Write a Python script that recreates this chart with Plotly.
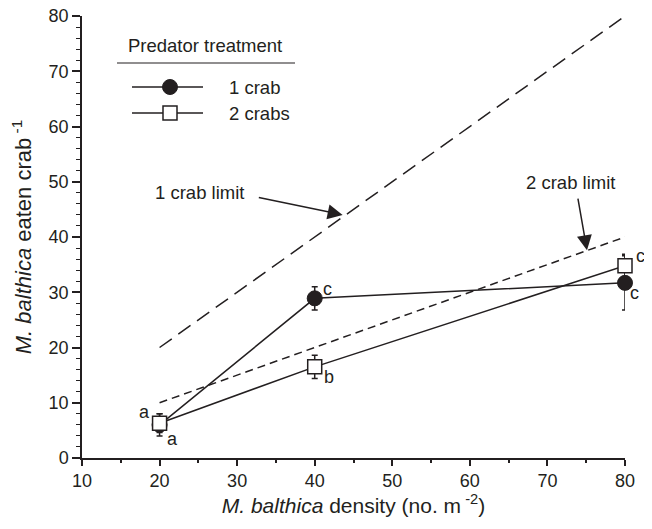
import plotly.graph_objects as go

density = [20, 40, 80]
one_crab = [6.0, 28.9, 31.7]
one_crab_err = [2.0, 2.1, 4.9]
two_crabs = [6.3, 16.5, 34.8]
two_crabs_err = [1.7, 2.1, 2.1]
limit_x = [20, 80]
limit_1 = [20, 80]
limit_2 = [10, 40]
x_ticks = [10, 20, 30, 40, 50, 60, 70, 80]
y_ticks = [0, 10, 20, 30, 40, 50, 60, 70, 80]

INK = "#231f20"
FONT = "Liberation Sans, Arial, sans-serif"

fig = go.Figure()

fig.add_trace(go.Scatter(x=limit_x, y=limit_1, mode="lines",
                         line=dict(color=INK, width=1.5, dash="15px,8px"),
                         showlegend=False, hoverinfo="skip"))
fig.add_trace(go.Scatter(x=limit_x, y=limit_2, mode="lines",
                         line=dict(color=INK, width=1.5, dash="8px,5px"),
                         showlegend=False, hoverinfo="skip"))

fig.add_trace(go.Scatter(x=density, y=one_crab, mode="lines+markers", name="1 crab",
                         line=dict(color=INK, width=1.5),
                         marker=dict(symbol="circle", size=15, color=INK,
                                     line=dict(color=INK, width=1)),
                         error_y=dict(type="data", array=one_crab_err, color=INK,
                                      thickness=1.5, width=3),
                         cliponaxis=False, showlegend=False))
fig.add_trace(go.Scatter(x=density, y=two_crabs, mode="lines+markers", name="2 crabs",
                         line=dict(color=INK, width=1.5),
                         marker=dict(symbol="square", size=14, color="white",
                                     line=dict(color=INK, width=1.5)),
                         error_y=dict(type="data", array=two_crabs_err, color=INK,
                                      thickness=1.5, width=3),
                         cliponaxis=False, showlegend=False))

# plot area in page pixels (page has an 8px body margin)
W, H, L, B = 543.0, 442.0, 82.0, 458.0
def px(x):
    return (x - L) / W
def py(y):
    return (B - y) / H

annotations = []
def txt(x, y, s, size=18, xref="x", yref="y", xanchor="center"):
    annotations.append(dict(x=x, y=y, xref=xref, yref=yref, text=s, showarrow=False,
                            font=dict(family=FONT, size=size, color=INK),
                            xanchor=xanchor, yanchor="middle"))

# significance letters
txt(18.1, 8.3, "a")
txt(21.7, 3.4, "a")
txt(41.6, 30.6, "c")
txt(41.8, 14.7, "b")
txt(px(640), py(256), "c", xref="paper", yref="paper")
txt(px(634), py(293), "c", xref="paper", yref="paper")

# limit labels and arrows
txt(25.2, 48.1, "1 crab limit", size=18.5)
txt(73.0, 49.8, "2 crab limit", size=18.5)
for (tx, ty, hx, hy) in [(32.6, 47.2, 43.6, 44.0), (73.9, 47.2, 75.1, 37.6)]:
    annotations.append(dict(x=hx, y=hy, ax=tx, ay=ty, xref="x", yref="y",
                            axref="x", ayref="y", text="", showarrow=True,
                            arrowhead=2, arrowsize=2, arrowwidth=1.5,
                            arrowcolor=INK))

# legend (drawn manually)
txt(px(205), py(45), "Predator treatment", size=18.5, xref="paper", yref="paper")
txt(px(227), py(87), "1 crab", size=18.5, xref="paper", yref="paper", xanchor="left")
txt(px(227), py(113), "2 crabs", size=18.5, xref="paper", yref="paper", xanchor="left")

shapes = [
    dict(type="line", xref="paper", yref="paper", x0=px(117), x1=px(295),
         y0=py(63), y1=py(63), line=dict(color=INK, width=1.2)),
    dict(type="line", xref="paper", yref="paper", x0=px(132), x1=px(203),
         y0=py(87), y1=py(87), line=dict(color=INK, width=1.5)),
    dict(type="line", xref="paper", yref="paper", x0=px(132), x1=px(203),
         y0=py(113), y1=py(113), line=dict(color=INK, width=1.5)),
    dict(type="circle", xref="paper", yref="paper", xsizemode="pixel", ysizemode="pixel",
         xanchor=px(170), yanchor=py(87), x0=-7.5, x1=7.5, y0=-7.5, y1=7.5,
         fillcolor=INK, line=dict(color=INK, width=1)),
    dict(type="rect", xref="paper", yref="paper", xsizemode="pixel", ysizemode="pixel",
         xanchor=px(170), yanchor=py(113), x0=-7, x1=7, y0=-7, y1=7,
         fillcolor="white", line=dict(color=INK, width=1.5)),
]

fig.update_layout(
    width=644, height=513,
    margin=dict(l=74, r=27, t=8, b=63, autoexpand=False),
    paper_bgcolor="white", plot_bgcolor="white",
    font=dict(family=FONT, size=18, color=INK),
    annotations=annotations, shapes=shapes,
    showlegend=False,
    xaxis=dict(range=[10, 80], tickmode="array", tickvals=x_ticks, automargin=False,
               ticktext=[str(v) for v in x_ticks], ticklabeloverflow="allow",
               showgrid=False, zeroline=False, showline=True, linecolor=INK, linewidth=1.5,
               ticks="outside", ticklen=6, tickwidth=1.5, tickcolor=INK,
               minor=dict(dtick=5, ticks="outside", ticklen=3, tickwidth=1.5, tickcolor=INK,
                          showgrid=False),
               tickfont=dict(size=18, color=INK),
               title=dict(text="<i>M. balthica</i> density (no. m<sup> -2</sup>)",
                          font=dict(size=21, color=INK), standoff=2)),
    yaxis=dict(range=[0, 80], tickmode="array", tickvals=y_ticks, automargin=False,
               ticktext=[str(v) for v in y_ticks], ticklabeloverflow="allow",
               showgrid=False, zeroline=False, showline=True, linecolor=INK, linewidth=1.5,
               ticks="outside", ticklen=8, tickwidth=1.5, tickcolor=INK,
               minor=dict(dtick=2, ticks="outside", ticklen=4, tickwidth=1.2, tickcolor=INK,
                          showgrid=False),
               tickfont=dict(size=18, color=INK),
               title=dict(text="<i>M. balthica</i> eaten crab<sup> -1</sup>",
                          font=dict(size=22, color=INK), standoff=12)),
)

fig.write_html("out.html")
